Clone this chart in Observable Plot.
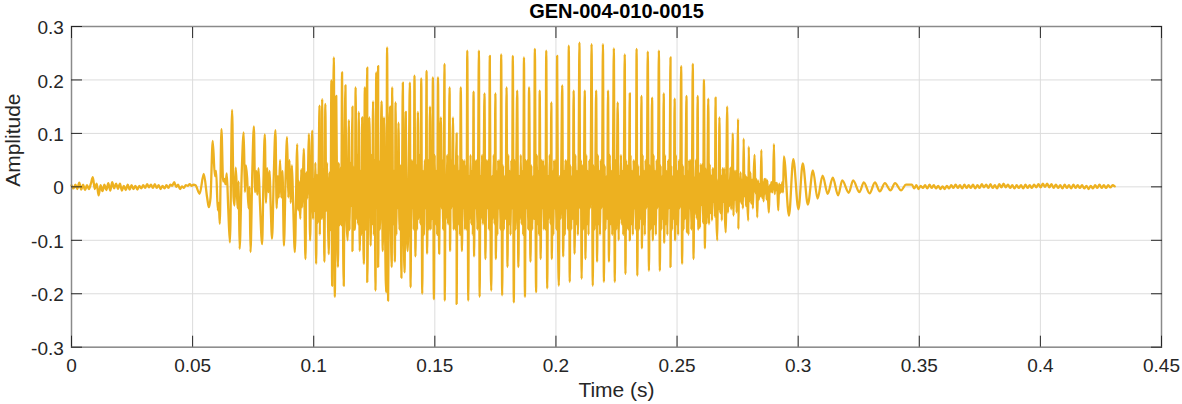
<!DOCTYPE html>
<html>
<head>
<meta charset="utf-8">
<script src="https://cdn.jsdelivr.net/npm/d3@7"></script>
<script src="https://cdn.jsdelivr.net/npm/@observablehq/plot@0.6"></script>
<style>
  html, body { margin: 0; padding: 0; background: #fff; }
</style>
</head>
<body>
<div id="chart"></div>
<script>
// ---------- chart text & ticks ----------
const titleText = "GEN-004-010-0015";
const xLabel = "Time (s)";
const yLabel = "Amplitude";
const xTicks = [0, 0.05, 0.1, 0.15, 0.2, 0.25, 0.3, 0.35, 0.4, 0.45];
const yTicks = [-0.3, -0.2, -0.1, 0, 0.1, 0.2, 0.3];

// ---------- waveform data ----------
// leading noise (samples every headStep s, starting at 0)
const headStep = 0.0008;
const headA = [0.003,-0.003,0.004,-0.004,0.008,-0.005,0.004,-0.006,0.003,-0.004,
  0.006,0.018,-0.004,0.006,-0.016,0.003,-0.008,0.004,-0.006,0.007,
  -0.007,0.009,-0.003,0.006,-0.004,0.006,-0.007,0.002,-0.006,0.004,
  -0.005,0.003,-0.004,0.002,-0.005,0.002,-0.003,0.003,-0.002,0.005,
  -0.001,0.004,-0.002,0.005,-0.002,0.003,-0.004,0.002,-0.003,0.003,
  -0.002,0.004,0.002,0.009,0.000,0.004,-0.004,0.001,-0.002,0.003,
  0.002,0.005,0.002,0.004,0.003];

// voicing onset extrema
const onsetT = [0.0529,0.0546,0.0560,0.0567,0.0574,0.0583,0.0592,0.0597,0.0604,0.0608,
  0.0612,0.0619,0.0626,0.0631,0.0636,0.0641,0.0647,0.0654,0.0663,0.0669,
  0.0673,0.0678,0.0683,0.0686,0.0690,0.0694,0.0703,0.0711,0.0716,0.0720,
  0.0725,0.0731,0.0735,0.0739,0.0746,0.0753,0.0758,0.0763,0.0767,0.0772,
  0.0778,0.0787,0.0792,0.0798,0.0803,0.0808,0.0813,0.0818,0.0822,0.0828,
  0.0835,0.0842,0.0847,0.0852,0.0856,0.0861,0.0866,0.0871,0.0877,0.0884,
  0.0890,0.0895,0.0900,0.0905,0.0910,0.0915,0.0922];
const onsetA = [-0.013,0.024,-0.02,-0.038,-0.02,0.086,0.02,0.03,-0.044,-0.03,
  -0.069,0.108,0.01,0.015,0.005,0.025,-0.04,-0.104,0.144,-0.02,
  -0.035,0.036,-0.01,-0.04,0.01,-0.116,0.03,0.102,-0.01,0.04,
  0.018,-0.04,0.0,-0.122,0.02,0.113,-0.01,0.03,-0.015,0.035,
  -0.03,-0.107,0.0,0.098,-0.03,0.035,-0.01,0.03,-0.03,-0.097,
  0.02,0.106,-0.04,0.02,-0.02,0.05,-0.02,0.03,-0.110,0.02,
  0.093,-0.02,0.05,-0.03,0.04,-0.03,-0.122];

// upward spikes of the voiced part and its decay
const peakT = [0.0932,0.0959,0.0980,0.0994,0.1024,0.1035,0.1048,0.1073,0.1083,0.1093,
  0.1117,0.1131,0.1145,0.1160,0.1173,0.1186,0.1200,0.1211,0.1221,0.1230,
  0.1245,0.1258,0.1266,0.1280,0.1290,0.1303,0.1315,0.1324,0.1338,0.1350,
  0.1368,0.1380,0.1397,0.1416,0.1430,0.1444,0.1466,0.1480,0.1492,0.1513,
  0.1525,0.1540,0.1561,0.1575,0.1590,0.1607,0.1634,0.1660,0.1682,0.1705,
  0.1727,0.1750,0.1774,0.1796,0.1822,0.1840,0.1868,0.1889,0.1913,0.1933,
  0.1960,0.1981,0.2005,0.2026,0.2053,0.2073,0.2097,0.2119,0.2147,0.2166,
  0.2194,0.2215,0.2239,0.2255,0.2284,0.2305,0.2333,0.2353,0.2379,0.2397,
  0.2425,0.2445,0.2473,0.2490,0.2517,0.2539,0.2565,0.2585,0.2611,0.2629,
  0.2659,0.2675,0.2707,0.2730,0.2752,0.2775,0.2796,0.2820,0.2848,0.2900,
  0.2941,0.2980,0.3019,0.3061,0.3101,0.3143,0.3182,0.3227,0.3271,0.3317,
  0.3358,0.3400,0.3445];
const peakA = [0.080,0.071,0.099,0.105,0.152,0.164,0.155,0.199,0.242,0.17,
  0.214,0.19,0.125,0.15,0.186,0.14,0.13,0.186,0.223,0.13,
  0.16,0.214,0.226,0.16,0.13,0.261,0.15,0.186,0.158,0.12,
  0.195,0.14,0.195,0.208,0.14,0.203,0.217,0.15,0.205,0.205,
  0.13,0.23,0.186,0.13,0.1,0.186,0.255,0.178,0.255,0.175,
  0.245,0.175,0.248,0.186,0.245,0.18,0.242,0.186,0.258,0.18,
  0.255,0.158,0.245,0.19,0.264,0.18,0.27,0.18,0.267,0.18,
  0.267,0.18,0.259,0.158,0.248,0.175,0.258,0.17,0.253,0.167,
  0.255,0.175,0.242,0.165,0.226,0.17,0.23,0.17,0.2,0.165,
  0.167,0.13,0.15,0.10,0.127,0.09,0.075,0.06,0.069,0.080,
  0.057,0.052,0.044,0.031,0.021,0.017,0.012,0.012,0.0085,0.0085,
  0.007,0.007,0.004];

// downward spikes of the voiced part and its decay
const troughT = [0.0945,0.0966,0.0985,0.1010,0.1025,0.1044,0.1062,0.1076,0.1087,0.1100,
  0.1124,0.1140,0.1160,0.1170,0.1190,0.1207,0.1221,0.1235,0.1255,0.1266,
  0.1285,0.1299,0.1307,0.1322,0.1335,0.1362,0.1375,0.1388,0.1400,0.1420,
  0.1448,0.1468,0.1496,0.1518,0.1541,0.1563,0.1590,0.1612,0.1638,0.1662,
  0.1685,0.1709,0.1733,0.1752,0.1778,0.1800,0.1826,0.1845,0.1872,0.1895,
  0.1918,0.1937,0.1964,0.1983,0.2012,0.2030,0.2057,0.2077,0.2106,0.2122,
  0.2152,0.2170,0.2198,0.2219,0.2243,0.2259,0.2287,0.2305,0.2336,0.2355,
  0.2384,0.2400,0.2429,0.2447,0.2473,0.2492,0.2521,0.2541,0.2568,0.2588,
  0.2615,0.2632,0.2666,0.2701,0.2753,0.2794,0.2831,0.2879,0.2918,0.2962,
  0.3001,0.3040,0.3080,0.3122,0.3165,0.3209,0.3253,0.3295,0.3337,0.3381,
  0.3425];
const troughA = [-0.06,-0.135,-0.1,-0.144,-0.09,-0.14,-0.126,-0.185,-0.206,-0.15,
  -0.185,-0.10,-0.12,-0.08,-0.12,-0.144,-0.178,-0.11,-0.194,-0.15,
  -0.12,-0.197,-0.213,-0.15,-0.14,-0.17,-0.16,-0.12,-0.188,-0.13,
  -0.2,-0.125,-0.21,-0.125,-0.213,-0.12,-0.219,-0.12,-0.213,-0.13,
  -0.206,-0.135,-0.194,-0.135,-0.203,-0.15,-0.216,-0.15,-0.206,-0.14,
  -0.197,-0.135,-0.19,-0.135,-0.185,-0.13,-0.178,-0.125,-0.172,-0.135,
  -0.185,-0.14,-0.178,-0.14,-0.178,-0.1,-0.163,-0.1,-0.166,-0.115,
  -0.157,-0.1,-0.157,-0.105,-0.15,-0.1,-0.144,-0.085,-0.135,-0.08,
  -0.115,-0.07,-0.1,-0.085,-0.079,-0.063,-0.057,-0.048,-0.044,-0.054,
  -0.042,-0.033,-0.022,-0.013,-0.016,-0.011,-0.010,-0.012,-0.0085,-0.0065,
  -0.0065];

// formant ringing inside each pitch period (levels of the dense core band)
const ringStep = 0.0003;
const ringPattern = [0.04,-0.08,0.02,-0.06,0.06,-0.07,0.03,-0.09,0.05,-0.04,0.05,-0.08];
const bandT = [0.0925,0.0990,0.1050,0.1150,0.2550,0.2620,0.2680,0.2740,0.2800,0.2860,0.2920];
const bandS = [0.55,0.75,0.9,1.0,0.85,0.7,0.6,0.45,0.3,0.15,0];

// trailing noise (samples every tailStep s, starting at tailStart)
const tailStart = 0.347;
const tailStep = 0.0009;
const tailA = [0.004,-0.003,0.003,-0.004,0.002,-0.002,0.003,-0.003,0.004,-0.002,
  0.003,-0.003,0.002,-0.004,0.001,-0.004,0.002,-0.003,0.003,-0.002,
  0.004,-0.002,0.003,-0.003,0.004,-0.002,0.003,-0.002,0.004,-0.003,
  0.003,-0.002,0.005,-0.001,0.004,-0.002,0.005,-0.002,0.003,-0.003,
  0.005,-0.001,0.006,-0.001,0.004,-0.002,0.003,-0.003,0.003,-0.002,
  0.003,-0.003,0.004,-0.002,0.003,-0.002,0.004,-0.001,0.005,-0.001,
  0.006,0.000,0.006,-0.001,0.005,-0.002,0.004,-0.002,0.003,-0.003,
  0.004,-0.002,0.003,-0.003,0.004,-0.002,0.003,-0.002,0.003,-0.003,
  0.002,-0.004,0.002,-0.003,0.003,-0.002,0.004,-0.002,0.003,-0.002,
  0.003,-0.001,0.003,0.001];

// ---------- assemble the trace ----------
function bandAt(t) {
  let s = 0;
  for (let i = 0; i < bandT.length; i++) if (t >= bandT[i]) s = bandS[i];
  return s;
}
const head = headA.map((a, i) => ({t: i * headStep, a}));
const onset = onsetT.map((t, i) => ({t, a: onsetA[i]}));
const major = [
  ...peakT.map((t, i) => ({t, a: peakA[i]})),
  ...troughT.map((t, i) => ({t, a: troughA[i]}))
].sort((p, q) => p.t - q.t);
const voiced = [];
let c = 0;
for (let i = 0; i < major.length; i++) {
  const p = major[i];
  voiced.push(p);
  const q = major[i + 1];
  if (!q) break;
  const s = bandAt(p.t);
  if (s === 0) continue;
  const n = Math.floor((q.t - p.t) / ringStep);
  let prev = p.a;
  for (let j = 1; j < n; j++) {
    let v;
    do { v = ringPattern[c++ % ringPattern.length]; } while (Math.sign(v) === Math.sign(prev));
    voiced.push({t: p.t + (q.t - p.t) * j / n, a: v * s});
    prev = v;
  }
}
const tail = tailA.map((a, i) => ({t: tailStart + i * tailStep, a}));
const trace = [...head, ...onset, ...voiced, ...tail];

// ---------- plot ----------
const fmt = d => String(+d.toFixed(2));
const ink = "#262626";

const chart = Plot.plot({
  width: 1182,
  height: 404,
  marginLeft: 71,
  marginRight: 21,
  marginTop: 26,
  marginBottom: 57.3,
  x: {domain: [0, 0.45]},
  y: {domain: [-0.3, 0.3]},
  style: {
    fontFamily: "'Liberation Sans', Arial, Helvetica, sans-serif",
    fontSize: "19px",
    color: ink,
    background: "#ffffff",
    overflow: "visible"
  },
  marks: [
    Plot.gridX(xTicks, {stroke: "#dcdcdc", strokeOpacity: 1, strokeWidth: 1}),
    Plot.gridY(yTicks, {stroke: "#dcdcdc", strokeOpacity: 1, strokeWidth: 1}),
    Plot.line(trace, {x: "t", y: "a", stroke: "#EDB120", strokeWidth: 2.3, strokeLinejoin: "round", curve: "monotone-x"}),
    Plot.frame({stroke: "#8a8a8a", strokeWidth: 1.5}),
    // inward ticks on all four sides
    Plot.axisX(xTicks, {anchor: "bottom", tickSize: -11, tickFormat: () => "", label: null, stroke: ink}),
    Plot.axisX(xTicks, {anchor: "top", tickSize: -11, tickFormat: () => "", label: null, stroke: ink}),
    Plot.axisY(yTicks, {anchor: "left", tickSize: -11, tickFormat: () => "", label: null, stroke: ink}),
    Plot.axisY(yTicks, {anchor: "right", tickSize: -11, tickFormat: () => "", label: null, stroke: ink}),
    // tick labels
    Plot.axisX(xTicks, {anchor: "bottom", tickSize: 0, tickPadding: 11.5, tickFormat: fmt, label: null, fill: ink}),
    Plot.axisY(yTicks, {anchor: "left", tickSize: 0, tickPadding: 7.7, tickFormat: fmt, label: null, fill: ink, dy: 1.5}),
    // title and axis labels
    Plot.text([titleText], {frameAnchor: "top", dy: -15.1, lineAnchor: "middle", fontSize: 20, fontWeight: "bold", fill: "#000"}),
    Plot.text([xLabel], {frameAnchor: "bottom", dy: 43.3, lineAnchor: "middle", fontSize: 21, fill: ink}),
    Plot.text([yLabel], {frameAnchor: "left", dx: -58.7, rotate: -90, lineAnchor: "middle", fontSize: 21, fill: ink})
  ]
});
document.getElementById("chart").appendChild(chart);
</script>
</body>
</html>
